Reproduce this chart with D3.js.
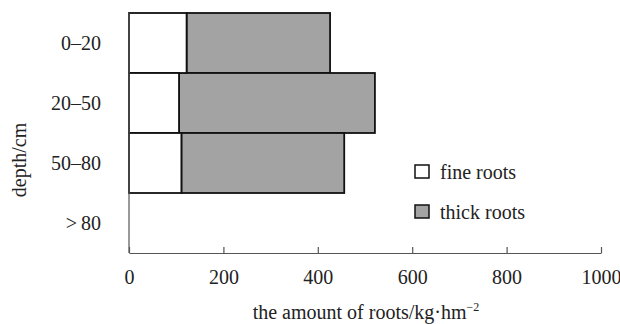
<!DOCTYPE html>
<html>
<head>
<meta charset="utf-8">
<script src="https://cdn.jsdelivr.net/npm/d3@7"></script>
<style>
  body { margin: 0; background: #fff; }
  text { font-family: "Liberation Serif", "Times New Roman", serif; fill: #222; }
</style>
</head>
<body>
<div id="plot"></div>
<script>
// depth classes, top to bottom
const depths = ["0\u201320", "20\u201350", "50\u201380", ">\u200980"];
const fineRoots = [122, 106, 111, 0];
const thickRoots = [304, 415, 345, 0];
const xTicks = [0, 200, 400, 600, 800, 1000];

const width = 620;
const height = 324;
const margin = { top: 13, right: 19, bottom: 71, left: 129 };
const fontSize = 20;

const svg = d3.select("#plot").append("svg")
    .attr("width", width)
    .attr("height", height);

const x = d3.scaleLinear()
    .domain([0, 1000])
    .range([margin.left, width - margin.right]);

const y = d3.scaleBand()
    .domain(depths)
    .range([margin.top, height - margin.bottom])
    .padding(0);

const rows = depths.map((d, i) => ({ depth: d, fine: fineRoots[i], thick: thickRoots[i] }))
    .filter(r => r.fine + r.thick > 0);

// thick roots stacked after fine roots
svg.append("g")
    .selectAll("rect")
    .data(rows)
    .join("rect")
    .attr("x", d => x(d.fine))
    .attr("y", d => y(d.depth))
    .attr("width", d => x(d.fine + d.thick) - x(d.fine))
    .attr("height", y.bandwidth())
    .attr("fill", "#a3a3a3")
    .attr("stroke", "#111")
    .attr("stroke-width", 1.8);

svg.append("g")
    .selectAll("rect")
    .data(rows)
    .join("rect")
    .attr("x", x(0))
    .attr("y", d => y(d.depth))
    .attr("width", d => x(d.fine) - x(0))
    .attr("height", y.bandwidth())
    .attr("fill", "#fff")
    .attr("stroke", "#111")
    .attr("stroke-width", 1.8);

// axes
const axisY = height - margin.bottom;
svg.append("line")
    .attr("x1", x(0)).attr("x2", x(0))
    .attr("y1", margin.top).attr("y2", axisY)
    .attr("stroke", "#555").attr("stroke-width", 1.2);

const xAxis = svg.append("g")
    .attr("transform", `translate(0,${axisY})`)
    .call(d3.axisBottom(x).tickValues(xTicks).tickFormat(d3.format("d"))
        .tickSizeInner(-6).tickSizeOuter(0).tickPadding(17));
xAxis.select(".domain").attr("stroke", "#555").attr("stroke-width", 1.2);
xAxis.selectAll(".tick line").attr("stroke", "#555").attr("stroke-width", 1.2);
xAxis.selectAll(".tick text")
    .attr("font-size", fontSize)
    .attr("font-family", "Liberation Serif, serif")
    .attr("fill", "#222");

svg.append("g")
    .selectAll("text")
    .data(depths)
    .join("text")
    .attr("x", 101)
    .attr("y", d => y(d) + y.bandwidth() / 2)
    .attr("dy", "0.35em")
    .attr("text-anchor", "end")
    .attr("font-size", fontSize)
    .text(d => d);

// axis titles
const xTitle = svg.append("text")
    .attr("x", 366)
    .attr("y", 319)
    .attr("text-anchor", "middle")
    .attr("font-size", fontSize);
xTitle.append("tspan").text("the amount of roots/kg\u00b7hm");
xTitle.append("tspan").attr("dy", -8).attr("font-size", 12).text("\u22122");

svg.append("text")
    .attr("transform", `translate(26,${(margin.top + axisY) / 2 + 27}) rotate(-90)`)
    .attr("text-anchor", "middle")
    .attr("font-size", fontSize)
    .text("depth/cm");

// legend
const legendItems = [
    { label: "fine roots", fill: "#fff" },
    { label: "thick roots", fill: "#a3a3a3" }
];
const legend = svg.append("g")
    .selectAll("g")
    .data(legendItems)
    .join("g")
    .attr("transform", (d, i) => `translate(415,${165 + i * 40})`);
legend.append("rect")
    .attr("width", 14).attr("height", 13)
    .attr("fill", d => d.fill)
    .attr("stroke", "#111")
    .attr("stroke-width", 1.5);
legend.append("text")
    .attr("x", 25)
    .attr("y", 7)
    .attr("dy", "0.35em")
    .attr("font-size", fontSize)
    .text(d => d.label);
</script>
</body>
</html>
